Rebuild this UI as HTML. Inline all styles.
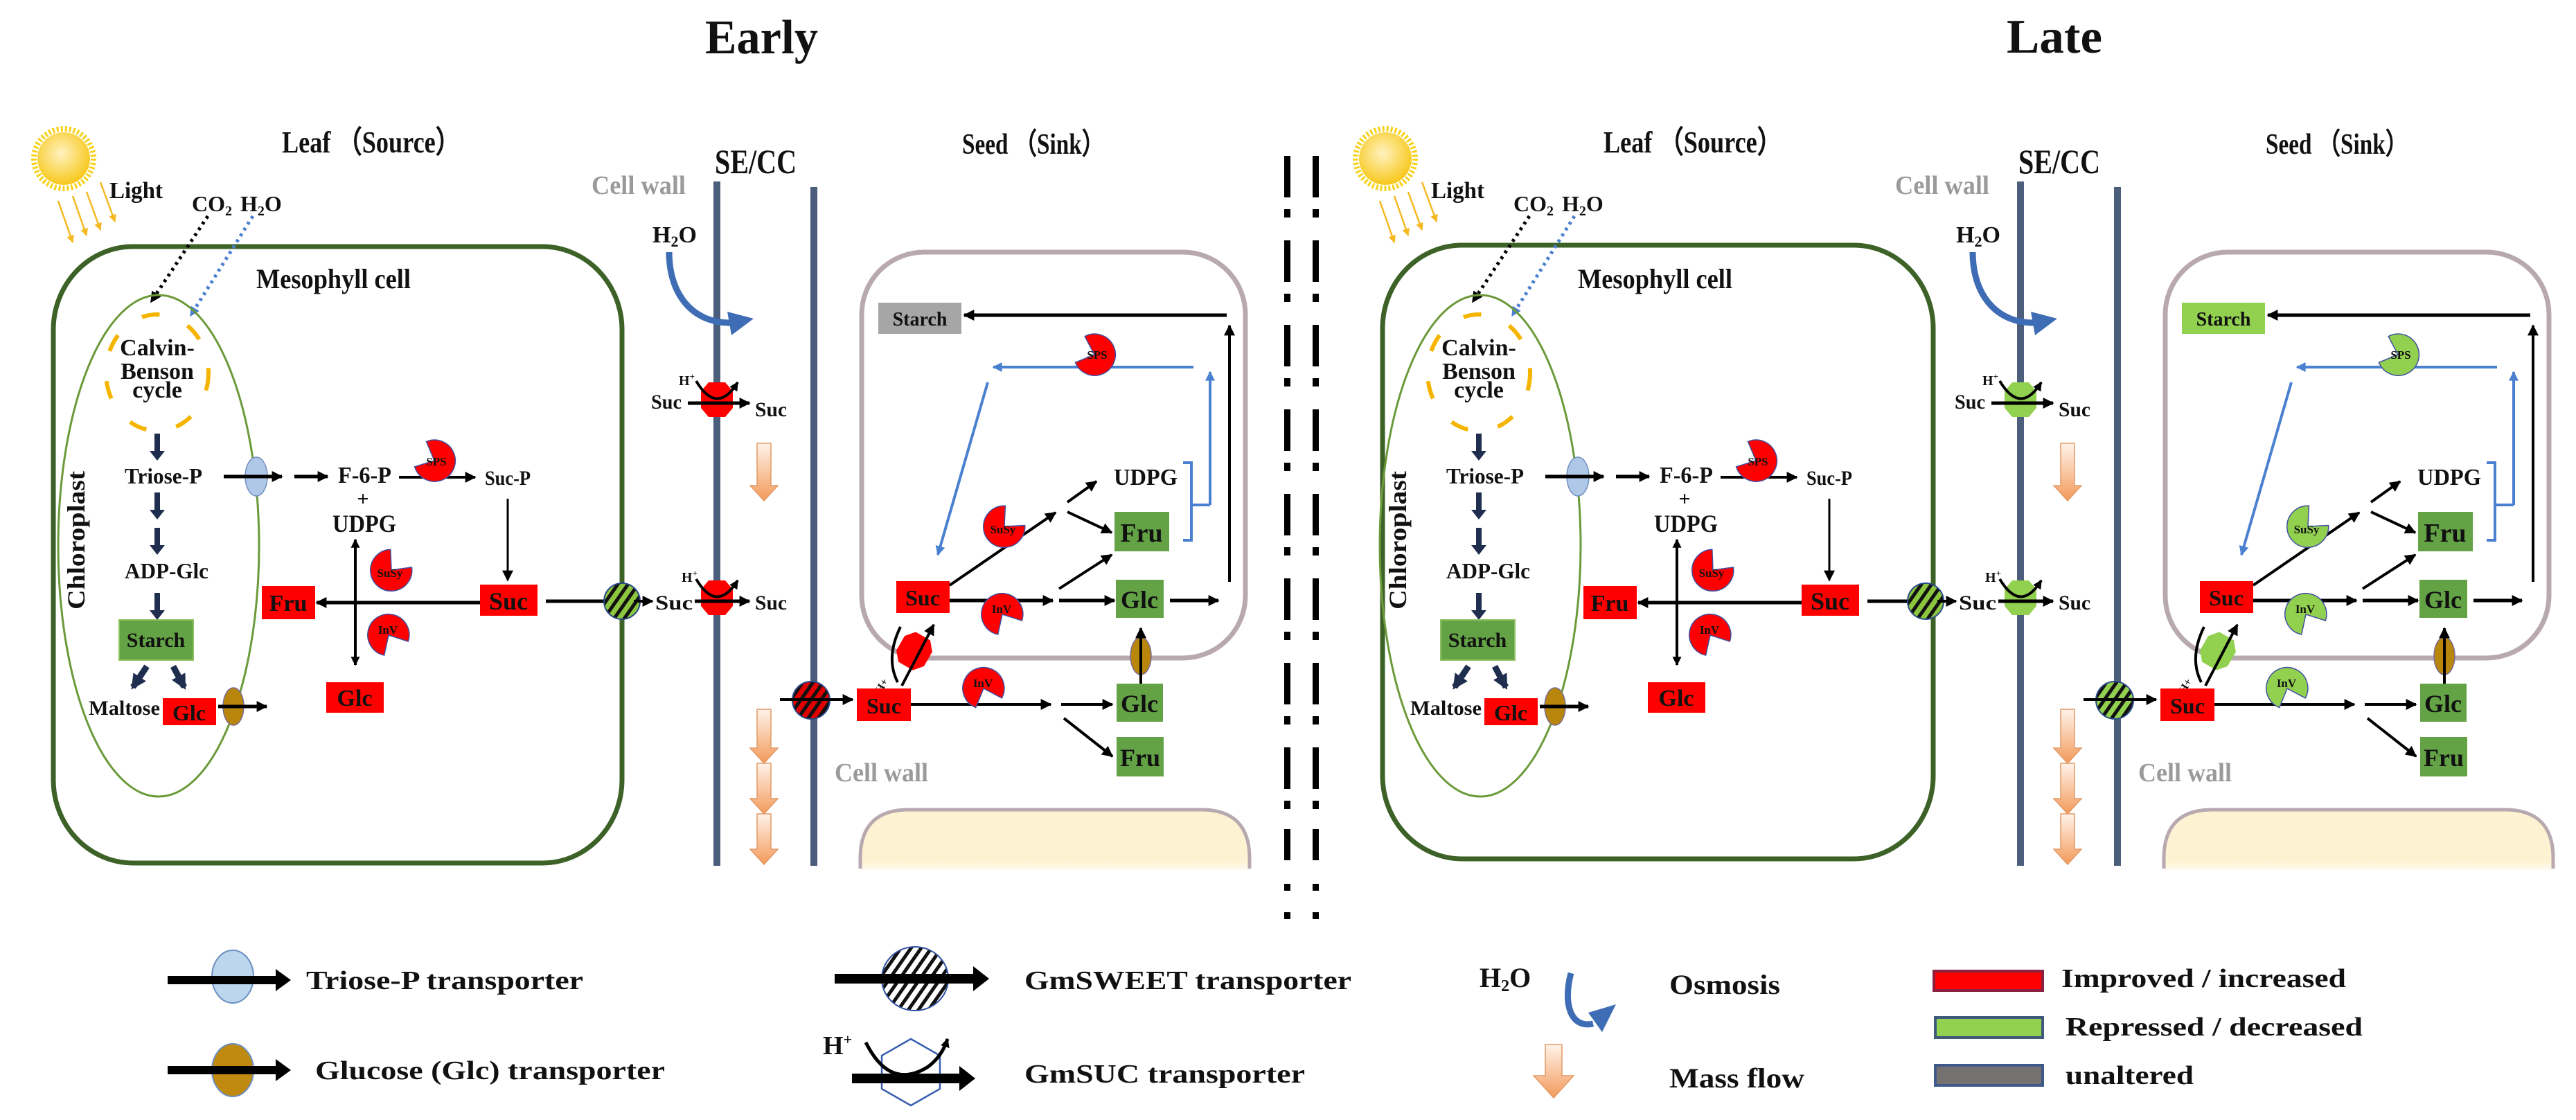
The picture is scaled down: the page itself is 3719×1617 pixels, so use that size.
<!DOCTYPE html>
<html><head><meta charset="utf-8"><style>
html,body{margin:0;padding:0;background:#fff;}
svg{display:block;}
text{font-family:"Liberation Serif",serif;font-weight:bold;fill:#111;}
</style></head><body>
<svg width="3719" height="1617" viewBox="0 0 3719 1617" xmlns="http://www.w3.org/2000/svg">
<defs>
<marker id="a" viewBox="0 0 10 10" refX="9" refY="5" markerUnits="userSpaceOnUse" markerWidth="18" markerHeight="16" orient="auto"><path d="M0,0L10,5L0,10Z" fill="#000"/></marker>
<marker id="as" viewBox="0 0 10 10" refX="9" refY="5" markerUnits="userSpaceOnUse" markerWidth="14" markerHeight="13" orient="auto-start-reverse"><path d="M0,0L10,5L0,10Z" fill="#000"/></marker>
<marker id="ab" viewBox="0 0 10 10" refX="9" refY="5" markerUnits="userSpaceOnUse" markerWidth="16" markerHeight="14" orient="auto"><path d="M0,0L10,5L0,10Z" fill="#4a80d0"/></marker>
<marker id="ao" viewBox="0 0 10 10" refX="9" refY="5" markerUnits="userSpaceOnUse" markerWidth="12" markerHeight="11" orient="auto"><path d="M0,0L10,5L0,10Z" fill="#f5b820"/></marker>
<marker id="an" viewBox="0 0 10 10" refX="8" refY="5" markerUnits="userSpaceOnUse" markerWidth="22" markerHeight="22" orient="auto"><path d="M0,0L10,5L0,10Z" fill="#1f2d4e"/></marker>
<pattern id="hatch" width="12" height="12" patternUnits="userSpaceOnUse" patternTransform="rotate(35)"><rect width="5" height="12" fill="#111"/></pattern>
<linearGradient id="mf" x1="0" y1="0" x2="0" y2="1"><stop offset="0" stop-color="#fff3ea"/><stop offset="1" stop-color="#f39a5a"/></linearGradient>
<radialGradient id="sun" cx="0.45" cy="0.4" r="0.6"><stop offset="0" stop-color="#fff2c0"/><stop offset="1" stop-color="#f7c81c"/></radialGradient>
<linearGradient id="gr" x1="0" y1="0" x2="0" y2="1"><stop offset="0" stop-color="#fdf3d2"/><stop offset="0.85" stop-color="#fdf3d2"/><stop offset="1" stop-color="#fffaf0"/></linearGradient>
<path id="pac" d="M0,0 L22,-20 A30,30 0 1,0 22,20 Z" stroke="#4050a0" stroke-width="1.5"/>
<polygon id="oct" points="-12,-25 12,-25 23,-12 23,12 12,25 -12,25 -23,12 -23,-12"/>
</defs>

<text x="1018" y="77" font-size="70" textLength="163" lengthAdjust="spacingAndGlyphs">Early</text>
<text x="2897" y="76" font-size="70" textLength="138" lengthAdjust="spacingAndGlyphs">Late</text>

<rect x="77" y="356" width="821" height="890" rx="115" ry="120" fill="none" stroke="#3d6228" stroke-width="7"/>
<rect x="1996" y="354" width="795" height="886" rx="115" ry="120" fill="none" stroke="#3d6228" stroke-width="7"/>

<g id="lf">
<circle cx="92" cy="229" r="43" fill="none" stroke="#f7d21b" stroke-width="8" stroke-dasharray="3 3"/>
<circle cx="92" cy="229" r="38" fill="url(#sun)"/>
<g stroke="#f5b820" stroke-width="2.5" marker-end="url(#ao)">
<line x1="84" y1="290" x2="105" y2="350"/><line x1="105" y1="283" x2="125" y2="340"/>
<line x1="125" y1="277" x2="145" y2="332"/><line x1="145" y1="263" x2="166" y2="320"/>
</g>
<text x="158" y="286" font-size="34" textLength="77" lengthAdjust="spacingAndGlyphs">Light</text>
<text x="277" y="305" font-size="32">CO<tspan font-size="20" dy="6">2</tspan><tspan dy="-6" dx="12">H</tspan><tspan font-size="20" dy="6">2</tspan><tspan dy="-6">O</tspan></text>
<text x="407" y="220" font-size="44" textLength="258" lengthAdjust="spacingAndGlyphs">Leaf （Source）</text>
<text x="370" y="416" font-size="40" textLength="223" lengthAdjust="spacingAndGlyphs">Mesophyll cell</text>
<line x1="300" y1="312" x2="218" y2="436" stroke="#000" stroke-width="5" stroke-dasharray="4 6" marker-end="url(#a)"/>
<line x1="365" y1="312" x2="275" y2="456" stroke="#4a7fd0" stroke-width="5" stroke-dasharray="4 6" marker-end="url(#ab)"/>
<ellipse cx="229" cy="788" rx="145" ry="362" fill="none" stroke="#6b9a3a" stroke-width="3"/>
<text transform="translate(122,780) rotate(-90)" text-anchor="middle" font-size="36" textLength="200" lengthAdjust="spacingAndGlyphs">Chloroplast</text>
<ellipse cx="227" cy="538" rx="74" ry="84" fill="none" stroke="#f5b400" stroke-width="6" stroke-dasharray="26 44"/>
<text x="227" y="513" font-size="34" text-anchor="middle">Calvin-</text>
<text x="227" y="547" font-size="34" text-anchor="middle">Benson</text>
<text x="227" y="574" font-size="34" text-anchor="middle">cycle</text>
<g fill="#1f2d4e">
<polygon points="223,626 231,626 231,651 238,651 227,665 216,651 223,651"/>
<polygon points="223,711 231,711 231,736 238,736 227,750 216,736 223,736"/>
<polygon points="223,762 231,762 231,787 238,787 227,801 216,787 223,787"/>
<polygon points="223,856 231,856 231,881 238,881 227,895 216,881 223,881"/>
</g>
<text x="180" y="698" font-size="32" textLength="112" lengthAdjust="spacingAndGlyphs">Triose-P</text>
<text x="180" y="835" font-size="32" textLength="121" lengthAdjust="spacingAndGlyphs">ADP-Glc</text>
<rect x="172" y="895" width="107" height="58" fill="#63a345" stroke="#8cc060" stroke-width="2"/>
<text x="225" y="934" font-size="30" text-anchor="middle">Starch</text>
<line x1="212" y1="962" x2="192" y2="992" stroke="#1f2d4e" stroke-width="9" marker-end="url(#an)"/>
<line x1="250" y1="962" x2="266" y2="992" stroke="#1f2d4e" stroke-width="9" marker-end="url(#an)"/>
<text x="128" y="1032" font-size="30" textLength="103" lengthAdjust="spacingAndGlyphs">Maltose</text>
<rect x="235" y="1008" width="77" height="39" fill="#f00"/>
<text x="273" y="1040" font-size="32" text-anchor="middle">Glc</text>
<ellipse cx="337" cy="1020" rx="15" ry="27" fill="#b8860b" stroke="#7a6a9a" stroke-width="1.5"/>
<line x1="315" y1="1020" x2="385" y2="1020" stroke="#000" stroke-width="5" marker-end="url(#a)"/>
<ellipse cx="370" cy="688" rx="16" ry="28" fill="#b0c8e8" stroke="#7090c0" stroke-width="1.5"/>
<line x1="323" y1="688" x2="407" y2="688" stroke="#000" stroke-width="5" marker-end="url(#a)"/>
<line x1="425" y1="688" x2="473" y2="688" stroke="#000" stroke-width="5" marker-end="url(#a)"/>
<text x="488" y="697" font-size="34" textLength="77" lengthAdjust="spacingAndGlyphs">F-6-P</text>
<text x="524" y="730" font-size="30" text-anchor="middle">+</text>
<text x="480" y="768" font-size="36" textLength="92" lengthAdjust="spacingAndGlyphs">UDPG</text>
<line x1="576" y1="689" x2="686" y2="689" stroke="#000" stroke-width="4" marker-end="url(#a)"/>
<use href="#pac" transform="translate(627,665) rotate(205)" fill="#f00"/>
<text x="630" y="672" font-size="17" text-anchor="middle" fill="#300">SPS</text>
<text x="700" y="700" font-size="30" textLength="66" lengthAdjust="spacingAndGlyphs">Suc-P</text>
<line x1="733" y1="720" x2="733" y2="838" stroke="#000" stroke-width="3" marker-end="url(#a)"/>
<rect x="693" y="844" width="83" height="45" fill="#f00"/>
<text x="734" y="880" font-size="36" text-anchor="middle">Suc</text>
<line x1="693" y1="870" x2="457" y2="870" stroke="#000" stroke-width="5" marker-end="url(#a)"/>
<rect x="378" y="846" width="77" height="48" fill="#f00"/>
<text x="416" y="882" font-size="34" text-anchor="middle">Fru</text>
<line x1="513" y1="779" x2="513" y2="960" stroke="#000" stroke-width="4" marker-start="url(#as)" marker-end="url(#as)"/>
<use href="#pac" transform="translate(565,823) rotate(-50)" fill="#f00"/>
<text x="563" y="833" font-size="17" text-anchor="middle" fill="#300">SuSy</text>
<use href="#pac" transform="translate(561,917) rotate(60)" fill="#f00"/>
<text x="560" y="915" font-size="17" text-anchor="middle" fill="#300">InV</text>
<rect x="471" y="985" width="83" height="44" fill="#f00"/>
<text x="512" y="1019" font-size="34" text-anchor="middle">Glc</text>
<line x1="788" y1="868" x2="872" y2="868" stroke="#000" stroke-width="5"/>
</g>
<use href="#lf" transform="translate(1908,0)"/>

<g style="--enz:#ff0000;--st:#a6a6a6;--sw:#e00000">
<g id="rg">
<circle cx="898" cy="868" r="26" fill="#8cc63f"/>
<circle cx="898" cy="868" r="26" fill="url(#hatch)" stroke="#2a4a8a" stroke-width="2"/>
<line x1="915" y1="868" x2="942" y2="868" stroke="#000" stroke-width="4" marker-end="url(#a)"/>
<text x="946" y="880" font-size="30" textLength="54" lengthAdjust="spacingAndGlyphs">Suc</text>
<line x1="1035" y1="262" x2="1035" y2="1250" stroke="#4b5f7d" stroke-width="10"/>
<line x1="1175" y1="270" x2="1175" y2="1250" stroke="#4b5f7d" stroke-width="10"/>
<text x="1032" y="250" font-size="50" textLength="118" lengthAdjust="spacingAndGlyphs">SE/CC</text>
<text x="854" y="280" font-size="38" textLength="136" lengthAdjust="spacingAndGlyphs" style="fill:#9a9a9a">Cell wall</text>
<text x="942" y="350" font-size="34">H<tspan font-size="22" dy="6">2</tspan><tspan dy="-6">O</tspan></text>
<path d="M966,364 C966,425 1000,468 1058,466" fill="none" stroke="#3f6db5" stroke-width="9"/>
<polygon points="1050,450 1088,460 1056,484" fill="#3f6db5"/>
<use href="#oct" transform="translate(1035,577)" style="fill:var(--enz)"/>
<line x1="993" y1="582" x2="1082" y2="582" stroke="#000" stroke-width="5" marker-end="url(#a)"/>
<path d="M1005,550 Q1035,600 1065,552" fill="none" stroke="#000" stroke-width="4" marker-end="url(#as)"/>
<text x="980" y="556" font-size="20">H<tspan font-size="13" dy="-8">+</tspan></text>
<text x="940" y="590" font-size="30" textLength="44" lengthAdjust="spacingAndGlyphs">Suc</text>
<text x="1090" y="601" font-size="30" textLength="46" lengthAdjust="spacingAndGlyphs">Suc</text>
<use href="#oct" transform="translate(1035,863)" style="fill:var(--enz)"/>
<line x1="1003" y1="868" x2="1082" y2="868" stroke="#000" stroke-width="5" marker-end="url(#a)"/>
<path d="M1005,836 Q1035,886 1065,838" fill="none" stroke="#000" stroke-width="4" marker-end="url(#as)"/>
<text x="984" y="840" font-size="20">H<tspan font-size="13" dy="-8">+</tspan></text>
<text x="1090" y="880" font-size="30" textLength="46" lengthAdjust="spacingAndGlyphs">Suc</text>
<g fill="url(#mf)" stroke="#e39a66" stroke-width="1.5">
<polygon points="1093,640 1113,640 1113,701 1123,701 1103,723 1083,701 1093,701"/>
<polygon points="1093,1024 1113,1024 1113,1080 1123,1080 1103,1102 1083,1080 1093,1080"/>
<polygon points="1093,1102 1113,1102 1113,1153 1123,1153 1103,1175 1083,1153 1093,1153"/>
<polygon points="1093,1175 1113,1175 1113,1226 1123,1226 1103,1248 1083,1226 1093,1226"/>
</g>
<text x="1389" y="222" font-size="42" textLength="206" lengthAdjust="spacingAndGlyphs">Seed （Sink）</text>
<rect x="1244" y="364" width="554" height="586" rx="90" ry="90" fill="none" stroke="#b8a9b0" stroke-width="7"/>
<path d="M1242,1256 L1242,1239 Q1242,1169 1312,1169 L1734,1169 Q1804,1169 1804,1239 L1804,1256 Z" fill="url(#gr)"/>
<path d="M1242,1254 L1242,1239 Q1242,1169 1312,1169 L1734,1169 Q1804,1169 1804,1239 L1804,1254" fill="none" stroke="#b8a9b0" stroke-width="5"/>
<rect x="1268" y="437" width="120" height="45" style="fill:var(--st)"/>
<text x="1328" y="470" font-size="28" text-anchor="middle">Starch</text>
<line x1="1771" y1="455" x2="1392" y2="455" stroke="#000" stroke-width="5" marker-end="url(#a)"/>
<line x1="1775" y1="840" x2="1775" y2="470" stroke="#000" stroke-width="4" marker-end="url(#a)"/>
<g stroke="#4a80d0" stroke-width="4" fill="none">
<line x1="1723" y1="530" x2="1434" y2="530" marker-end="url(#ab)"/>
<line x1="1426" y1="552" x2="1354" y2="801" marker-end="url(#ab)"/>
<line x1="1747" y1="729" x2="1747" y2="537" marker-end="url(#ab)"/>
<path d="M1708,668 L1720,668 L1720,780 L1708,780 M1720,729 L1747,729"/>
</g>
<use href="#pac" transform="translate(1580,512) rotate(200)" style="fill:var(--enz)"/>
<text x="1584" y="518" font-size="17" text-anchor="middle" fill="#300">SPS</text>
<text x="1608" y="700" font-size="34" textLength="92" lengthAdjust="spacingAndGlyphs">UDPG</text>
<rect x="1609" y="739" width="79" height="57" fill="#63a345"/>
<text x="1648" y="782" font-size="38" text-anchor="middle">Fru</text>
<rect x="1611" y="837" width="69" height="55" fill="#63a345"/>
<text x="1645" y="878" font-size="36" text-anchor="middle">Glc</text>
<rect x="1294" y="839" width="77" height="46" fill="#f00"/>
<text x="1332" y="874" font-size="32" text-anchor="middle">Suc</text>
<line x1="1371" y1="845" x2="1524" y2="740" stroke="#000" stroke-width="4" marker-end="url(#a)"/>
<use href="#pac" transform="translate(1450,760) rotate(-45)" style="fill:var(--enz)"/>
<text x="1448" y="770" font-size="17" text-anchor="middle" fill="#300">SuSy</text>
<line x1="1541" y1="725" x2="1583" y2="695" stroke="#000" stroke-width="4" marker-end="url(#a)"/>
<line x1="1541" y1="739" x2="1605" y2="769" stroke="#000" stroke-width="4" marker-end="url(#a)"/>
<line x1="1371" y1="867" x2="1520" y2="867" stroke="#000" stroke-width="5" marker-end="url(#a)"/>
<use href="#pac" transform="translate(1447,887) rotate(60)" style="fill:var(--enz)"/>
<text x="1446" y="885" font-size="17" text-anchor="middle" fill="#300">InV</text>
<line x1="1529" y1="867" x2="1609" y2="867" stroke="#000" stroke-width="5" marker-end="url(#a)"/>
<line x1="1529" y1="850" x2="1605" y2="801" stroke="#000" stroke-width="4" marker-end="url(#a)"/>
<line x1="1689" y1="867" x2="1759" y2="867" stroke="#000" stroke-width="5" marker-end="url(#a)"/>
<ellipse cx="1647" cy="947" rx="15" ry="27" fill="#b8860b" stroke="#7a6a9a" stroke-width="1.5"/>
<line x1="1647" y1="987" x2="1647" y2="907" stroke="#000" stroke-width="4" marker-end="url(#a)"/>
<use href="#oct" transform="translate(1320,940) rotate(30)" style="fill:var(--enz)"/>
<line x1="1302" y1="990" x2="1348" y2="902" stroke="#000" stroke-width="4" marker-end="url(#a)"/>
<path d="M1300,905 Q1278,950 1296,985" fill="none" stroke="#000" stroke-width="4"/>
<text transform="translate(1272,1002) rotate(-60)" font-size="16">H+</text>
<circle cx="1171" cy="1011" r="27" style="fill:var(--sw)"/>
<circle cx="1171" cy="1011" r="27" fill="url(#hatch)" stroke="#2a4a8a" stroke-width="2"/>
<line x1="1126" y1="1010" x2="1231" y2="1010" stroke="#000" stroke-width="4" marker-end="url(#a)"/>
<rect x="1237" y="994" width="78" height="47" fill="#f00"/>
<text x="1276" y="1030" font-size="32" text-anchor="middle">Suc</text>
<line x1="1315" y1="1017" x2="1517" y2="1017" stroke="#000" stroke-width="4" marker-end="url(#a)"/>
<use href="#pac" transform="translate(1420,994) rotate(70)" style="fill:var(--enz)"/>
<text x="1419" y="992" font-size="17" text-anchor="middle" fill="#300">InV</text>
<line x1="1532" y1="1017" x2="1606" y2="1017" stroke="#000" stroke-width="4" marker-end="url(#a)"/>
<rect x="1612" y="987" width="67" height="55" fill="#63a345"/>
<text x="1645" y="1028" font-size="36" text-anchor="middle">Glc</text>
<line x1="1536" y1="1037" x2="1606" y2="1092" stroke="#000" stroke-width="4" marker-end="url(#a)"/>
<rect x="1612" y="1064" width="68" height="57" fill="#63a345"/>
<text x="1646" y="1106" font-size="36" text-anchor="middle">Fru</text>
<text x="1205" y="1128" font-size="38" textLength="135" lengthAdjust="spacingAndGlyphs" style="fill:#9a9a9a">Cell wall</text>
</g>
</g>
<use href="#rg" transform="translate(1882,0)" style="--enz:#92d050;--st:#92d050;--sw:#92d050"/>

<g fill="#000">
<rect x="1854" y="225" width="9" height="60"/><rect x="1895" y="225" width="9" height="60"/>
<rect x="1854" y="302" width="9" height="12"/><rect x="1895" y="302" width="9" height="12"/>
<rect x="1854" y="347" width="9" height="60"/><rect x="1895" y="347" width="9" height="60"/>
<rect x="1854" y="424" width="9" height="12"/><rect x="1895" y="424" width="9" height="12"/>
<rect x="1854" y="469" width="9" height="60"/><rect x="1895" y="469" width="9" height="60"/>
<rect x="1854" y="546" width="9" height="12"/><rect x="1895" y="546" width="9" height="12"/>
<rect x="1854" y="591" width="9" height="60"/><rect x="1895" y="591" width="9" height="60"/>
<rect x="1854" y="668" width="9" height="12"/><rect x="1895" y="668" width="9" height="12"/>
<rect x="1854" y="713" width="9" height="60"/><rect x="1895" y="713" width="9" height="60"/>
<rect x="1854" y="790" width="9" height="12"/><rect x="1895" y="790" width="9" height="12"/>
<rect x="1854" y="835" width="9" height="60"/><rect x="1895" y="835" width="9" height="60"/>
<rect x="1854" y="912" width="9" height="12"/><rect x="1895" y="912" width="9" height="12"/>
<rect x="1854" y="957" width="9" height="60"/><rect x="1895" y="957" width="9" height="60"/>
<rect x="1854" y="1034" width="9" height="12"/><rect x="1895" y="1034" width="9" height="12"/>
<rect x="1854" y="1079" width="9" height="60"/><rect x="1895" y="1079" width="9" height="60"/>
<rect x="1854" y="1156" width="9" height="12"/><rect x="1895" y="1156" width="9" height="12"/>
<rect x="1854" y="1197" width="9" height="45"/><rect x="1895" y="1197" width="9" height="45"/>
<rect x="1854" y="1276" width="9" height="10"/><rect x="1895" y="1276" width="9" height="10"/>
<rect x="1854" y="1317" width="9" height="10"/><rect x="1895" y="1317" width="9" height="10"/>
</g>

<ellipse cx="336" cy="1410" rx="30" ry="38" fill="#bcd6ee" stroke="#6a8fc0" stroke-width="2"/>
<polygon points="242,1409 398,1409 398,1399 420,1415 398,1431 398,1421 242,1421" fill="#000"/>
<text x="442" y="1428" font-size="38" textLength="400" lengthAdjust="spacingAndGlyphs">Triose-P transporter</text>
<ellipse cx="336" cy="1545" rx="30" ry="38" fill="#c08a10" stroke="#6a8fc0" stroke-width="2"/>
<polygon points="242,1539 398,1539 398,1529 420,1545 398,1561 398,1551 242,1551" fill="#000"/>
<text x="455" y="1558" font-size="38" textLength="505" lengthAdjust="spacingAndGlyphs">Glucose (Glc) transporter</text>

<ellipse cx="1321" cy="1413" rx="48" ry="46" fill="#fff"/>
<ellipse cx="1321" cy="1413" rx="48" ry="46" fill="url(#hatch)" stroke="#3050a0" stroke-width="2"/>
<polygon points="1205,1406 1405,1406 1405,1395 1428,1413 1405,1431 1405,1420 1205,1420" fill="#000"/>
<text x="1479" y="1428" font-size="38" textLength="472" lengthAdjust="spacingAndGlyphs">GmSWEET transporter</text>
<text x="1188" y="1522" font-size="38">H<tspan font-size="22" dy="-14">+</tspan></text>
<polygon points="1315,1500 1357,1524 1357,1572 1315,1596 1273,1572 1273,1524" fill="none" stroke="#3a5fb0" stroke-width="2.5"/>
<path d="M1250,1505 Q1285,1575 1340,1540 Q1360,1525 1368,1500" fill="none" stroke="#000" stroke-width="5" marker-end="url(#as)"/>
<polygon points="1230,1550 1385,1550 1385,1539 1408,1557 1385,1575 1385,1564 1230,1564" fill="#000"/>
<text x="1479" y="1563" font-size="38" textLength="405" lengthAdjust="spacingAndGlyphs">GmSUC transporter</text>

<text x="2136" y="1425" font-size="40">H<tspan font-size="24" dy="6">2</tspan><tspan dy="-6">O</tspan></text>
<path d="M2268,1405 C2256,1450 2268,1485 2300,1478" fill="none" stroke="#3f6db5" stroke-width="9"/>
<polygon points="2293,1462 2333,1450 2313,1490" fill="#3f6db5"/>
<text x="2410" y="1435" font-size="40" textLength="160" lengthAdjust="spacingAndGlyphs">Osmosis</text>
<polygon points="2231,1508 2255,1508 2255,1553 2272,1553 2243,1585 2214,1553 2231,1553" fill="url(#mf)" stroke="#e39a66" stroke-width="1.5"/>
<text x="2410" y="1570" font-size="40" textLength="195" lengthAdjust="spacingAndGlyphs">Mass flow</text>

<rect x="2792" y="1402" width="157" height="28" fill="#ff0000" stroke="#8b2040" stroke-width="4"/>
<text x="2976" y="1425" font-size="38" textLength="411" lengthAdjust="spacingAndGlyphs">Improved / increased</text>
<rect x="2794" y="1469" width="155" height="29" fill="#92d050" stroke="#3f5a7a" stroke-width="4"/>
<text x="2982" y="1495" font-size="38" textLength="429" lengthAdjust="spacingAndGlyphs">Repressed / decreased</text>
<rect x="2794" y="1538" width="155" height="29" fill="#767171" stroke="#3f5a8a" stroke-width="4"/>
<text x="2982" y="1565" font-size="38" textLength="185" lengthAdjust="spacingAndGlyphs">unaltered</text>
</svg>
</body></html>
